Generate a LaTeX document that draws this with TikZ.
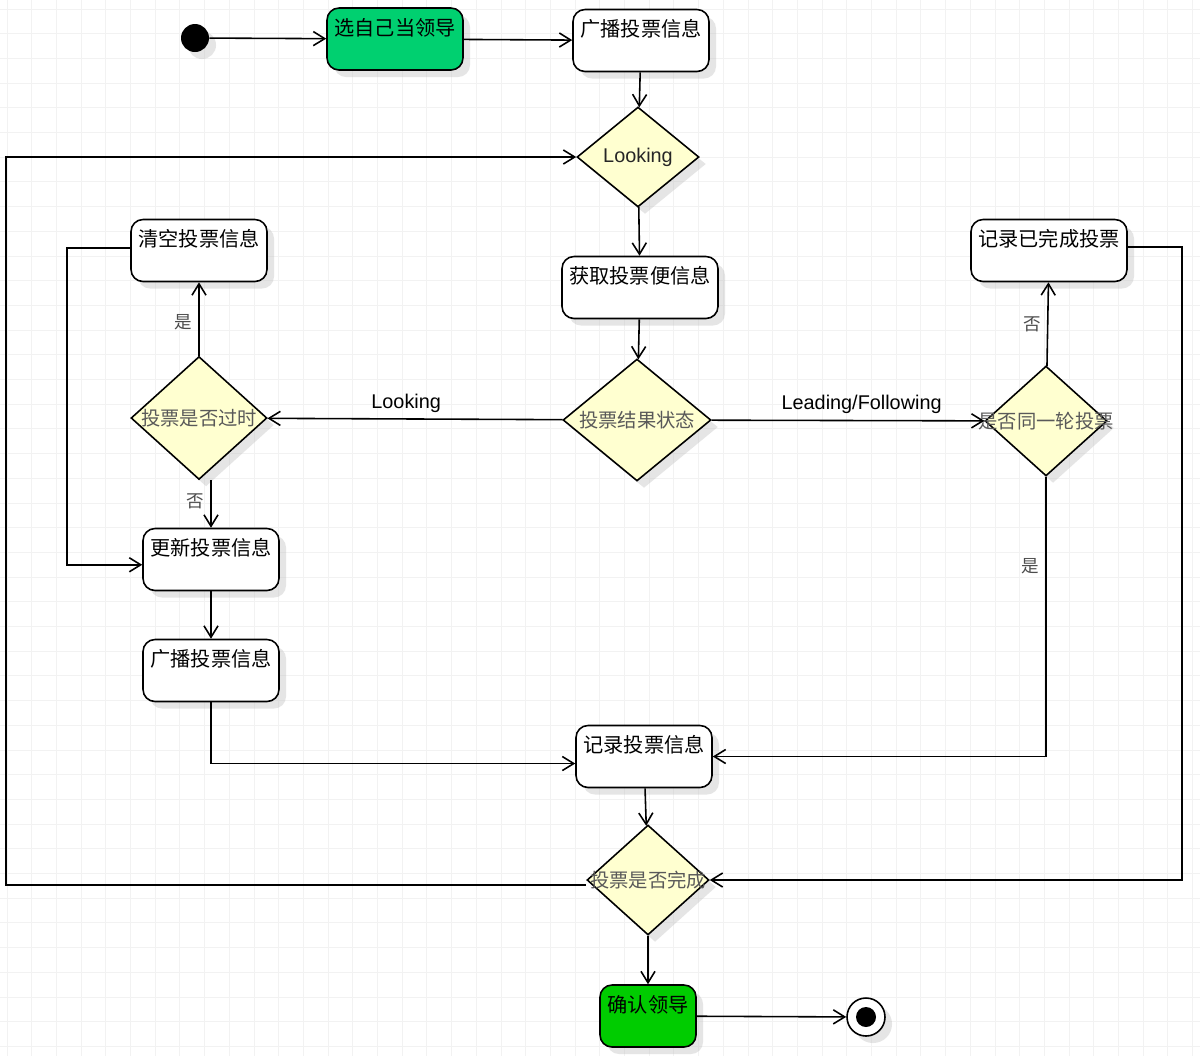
\documentclass[tikz,border=0pt]{standalone}
\usepackage{fontspec}
\setmainfont{Liberation Sans}
\newfontfamily\cjk{Noto Sans CJK SC}
\usetikzlibrary{positioning,shapes.geometric,arrows.meta,shadows}

\definecolor{leadgreen}{RGB}{0,208,112}
\definecolor{okgreen}{RGB}{0,204,0}
\definecolor{choicefill}{RGB}{255,255,208}
\definecolor{gridgray}{RGB}{242,242,242}

\begin{document}
\begin{tikzpicture}
[   x=0.02cm, y=-0.02cm,
    softshadow/.style={drop shadow={shadow xshift=4pt, shadow yshift=-4pt, fill=black!25, opacity=0.4}},
    actbox/.style={draw=black, line width=0.9pt, fill=white, rounded corners=0.24cm, minimum width=2.72cm, minimum height=1.24cm, inner sep=0pt, softshadow},
    choice/.style={diamond, draw=black, line width=0.9pt, fill=choicefill, inner sep=0pt, softshadow},
    boxtext/.style={anchor=north, yshift=-5pt, inner sep=1pt, font=\cjk\fontsize{11.5}{13}\selectfont},
    choicetext/.style={inner sep=0pt, text=black!65, font=\cjk\fontsize{11}{13}\selectfont},
    edgetext/.style={font=\fontsize{11.3}{13}\selectfont},
    yesno/.style={text=black!70, font=\cjk\fontsize{10}{12}\selectfont},
    flow/.style={->, >={Straight Barb[length=6.5pt, width=8pt]}, line width=0.9pt},
    gridline/.style={draw=gridgray, line width=0.5pt}, ]

    \useasboundingbox (0,0) rectangle (1200,1056);
    \fill[white] (0,0) rectangle (1200,1056);

    % background grid
    \foreach \gx in {7,31.7,...,1200}
        \draw[gridline] (\gx,0) -- (\gx,1056);
    \foreach \gy in {9,33.7,...,1056}
        \draw[gridline] (0,\gy) -- (1200,\gy);

    % start and end
    \node[circle, fill=black, minimum size=0.56cm, inner sep=0pt, softshadow] (start) at (195,38) {};
    \node[circle, draw=black, line width=0.9pt, fill=white, minimum size=0.76cm, inner sep=0pt, softshadow,
          path picture={\fill[black] (path picture bounding box.center) circle (0.2cm);}] (finish) at (866,1017) {};

    % actions
    \node[actbox, fill=leadgreen, label={[boxtext]north:选自己当领导}] (lead) at (395,39) {};
    \node[actbox, label={[boxtext]north:广播投票信息}] (bcast) at (641,40.5) {};
    \node[actbox, minimum width=3.12cm, label={[boxtext]north:获取投票便信息}] (fetch) at (640,287.5) {};
    \node[actbox, label={[boxtext]north:清空投票信息}] (clear) at (199,250.5) {};
    \node[actbox, minimum width=3.12cm, label={[boxtext]north:记录已完成投票}] (recdone) at (1049,250.5) {};
    \node[actbox, label={[boxtext]north:更新投票信息}] (update) at (211,559.5) {};
    \node[actbox, label={[boxtext]north:广播投票信息}] (rebcast) at (211,670.5) {};
    \node[actbox, label={[boxtext]north:记录投票信息}] (record) at (644,756.5) {};
    \node[actbox, fill=okgreen, minimum width=1.92cm, label={[boxtext]north:确认领导}] (confirm) at (648,1016) {};

    % decisions
    \node[choice, minimum width=2.44cm, minimum height=2cm,
          label={[choicetext, text=black!85, font=\fontsize{11.3}{13}\selectfont]center:Looking}] (look) at (638,157) {};
    \node[choice, minimum width=2.96cm, minimum height=2.44cm, label={[choicetext]center:投票结果状态}] (state) at (637,420) {};
    \node[choice, minimum width=2.72cm, minimum height=2.46cm, label={[choicetext]center:投票是否过时}] (expired) at (199,418) {};
    \node[choice, minimum width=2.44cm, minimum height=2.2cm, label={[choicetext]center:是否同一轮投票}] (same) at (1046,421) {};
    \node[choice, minimum width=2.44cm, minimum height=2.2cm, label={[choicetext]center:投票是否完成}] (done) at (648,880) {};

    % flows
    \draw[flow] (start) -- (lead);
    \draw[flow] (lead) -- (bcast);
    \draw[flow] (bcast) -- (look);
    \draw[flow] (look) -- (fetch);
    \draw[flow] (fetch) -- (state);
    \draw[flow] (state) -- node[edgetext, above, pos=0.53] {Looking} (expired);
    \draw[flow] (state) -- node[edgetext, above, pos=0.55] {Leading/Following} (same);
    \draw[flow] (expired) -- node[yesno, left, pos=0.45] {是} (clear);
    \draw[flow] (update |- expired.south) -- node[yesno, left, pos=0.45] {否} (update);
    \draw[flow] ([yshift=1.5pt]clear.west) -- ++(-63,0) |- ([yshift=-3pt]update.west);
    \draw[flow] (update) -- (rebcast);
    \draw[flow] (rebcast.south) |- ([yshift=-4pt]record.west);
    \draw[flow] (same) -- node[yesno, left, pos=0.5] {否} (recdone);
    \draw[flow] (same.south) |- node[yesno, left, pos=0.16] {是} (record.east);
    \draw[flow] ([yshift=2pt]recdone.east) -- ++(54,0) |- (done.east);
    \draw[flow] (record) -- (done);
    \draw[flow] ([yshift=-3pt]done.west) -- ++(-580,0) |- (look.west);
    \draw[flow] (done) -- (confirm);
    \draw[flow] (confirm) -- (finish);

\end{tikzpicture}
\end{document}
